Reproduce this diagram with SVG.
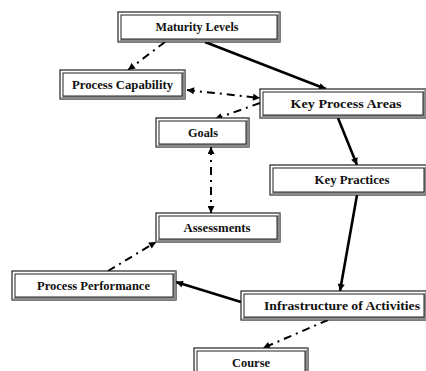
<svg xmlns="http://www.w3.org/2000/svg" width="426" height="371" viewBox="0 0 426 371">
<style>
.o{fill:#fff;stroke:#222;stroke-width:1.2}
.i{fill:#fff;stroke:#222;stroke-width:1}
.sh{fill:#8a8a8a;stroke:none}
.t{font-family:"Liberation Serif","Times New Roman",serif;font-weight:bold;font-size:12.5px;fill:#111;text-anchor:middle}
.s{fill:none;stroke:#000;stroke-width:2.6}
.d{fill:none;stroke:#000;stroke-width:2;stroke-dasharray:8 5 2 5}
</style>
<defs>
<marker id="a" viewBox="0 0 10 10" refX="10" refY="5" markerWidth="8" markerHeight="7" markerUnits="userSpaceOnUse" orient="auto-start-reverse"><path d="M0,0 L10,5 L0,10 Z" fill="#000"/></marker>
</defs>
<g id="connectors">
<path class="s" d="M205,42 L326,89" marker-end="url(#a)"/>
<path class="d" d="M165,42 L128,70" marker-end="url(#a)"/>
<path class="d" d="M187,90 L260,98" marker-start="url(#a)" marker-end="url(#a)"/>
<path class="d" d="M260,103 L215,119" marker-end="url(#a)"/>
<path class="d" d="M211,147 L211,213" marker-start="url(#a)" marker-end="url(#a)"/>
<path class="s" d="M338,118 L357,165" marker-end="url(#a)"/>
<path class="s" d="M357,195 L340,291" marker-end="url(#a)"/>
<path class="s" d="M241,302 L176,282" marker-end="url(#a)"/>
<path class="d" d="M108,271 L156,242" marker-end="url(#a)"/>
<path class="d" d="M328,320 L263,348" marker-end="url(#a)"/>
</g>
<g id="maturity-levels">
<rect class="o" x="118" y="12" width="162" height="30"/>
<path class="sh" d="M118,42 L280,42 L280,12 L277,15 L277,39 L121,39 Z"/>
<rect class="i" x="121" y="15" width="156" height="24"/>
<text class="t" x="197" y="31" textLength="83" lengthAdjust="spacingAndGlyphs">Maturity Levels</text>
</g>
<g id="process-capability">
<rect class="o" x="60" y="70" width="125" height="29"/>
<path class="sh" d="M60,99 L185,99 L185,70 L182,73 L182,96 L63,96 Z"/>
<rect class="i" x="63" y="73" width="119" height="23"/>
<text class="t" x="122.5" y="89" textLength="101" lengthAdjust="spacingAndGlyphs">Process Capability</text>
</g>
<g id="key-process-areas">
<rect class="o" x="260" y="89" width="166" height="29"/>
<path class="sh" d="M260,118 L426,118 L426,89 L423,92 L423,115 L263,115 Z"/>
<rect class="i" x="263" y="92" width="160" height="23"/>
<text class="t" x="346" y="108" textLength="111" lengthAdjust="spacingAndGlyphs">Key Process Areas</text>
</g>
<g id="goals">
<rect class="o" x="156" y="118" width="93" height="29"/>
<path class="sh" d="M156,147 L249,147 L249,118 L246,121 L246,144 L159,144 Z"/>
<rect class="i" x="159" y="121" width="87" height="23"/>
<text class="t" x="203" y="137" textLength="30" lengthAdjust="spacingAndGlyphs">Goals</text>
</g>
<g id="key-practices">
<rect class="o" x="270" y="165" width="157" height="30"/>
<path class="sh" d="M270,195 L427,195 L427,165 L424,168 L424,192 L273,192 Z"/>
<rect class="i" x="273" y="168" width="151" height="24"/>
<text class="t" x="352" y="184" textLength="75" lengthAdjust="spacingAndGlyphs">Key Practices</text>
</g>
<g id="assessments">
<rect class="o" x="156" y="213" width="124" height="29"/>
<path class="sh" d="M156,242 L280,242 L280,213 L277,216 L277,239 L159,239 Z"/>
<rect class="i" x="159" y="216" width="118" height="23"/>
<text class="t" x="217" y="232" textLength="67" lengthAdjust="spacingAndGlyphs">Assessments</text>
</g>
<g id="process-performance">
<rect class="o" x="12" y="271" width="164" height="29"/>
<path class="sh" d="M12,300 L176,300 L176,271 L173,274 L173,297 L15,297 Z"/>
<rect class="i" x="15" y="274" width="158" height="23"/>
<text class="t" x="93.5" y="290" textLength="113" lengthAdjust="spacingAndGlyphs">Process Performance</text>
</g>
<g id="infrastructure-of-activities">
<rect class="o" x="241" y="291" width="186" height="29"/>
<path class="sh" d="M241,320 L427,320 L427,291 L424,294 L424,317 L244,317 Z"/>
<rect class="i" x="244" y="294" width="180" height="23"/>
<text class="t" x="342" y="310" textLength="156" lengthAdjust="spacingAndGlyphs">Infrastructure of Activities</text>
</g>
<g id="course">
<rect class="o" x="194" y="348" width="114" height="30"/>
<path class="sh" d="M194,378 L308,378 L308,348 L305,351 L305,375 L197,375 Z"/>
<rect class="i" x="197" y="351" width="108" height="24"/>
<text class="t" x="251" y="367" textLength="38" lengthAdjust="spacingAndGlyphs">Course</text>
</g>
</svg>
